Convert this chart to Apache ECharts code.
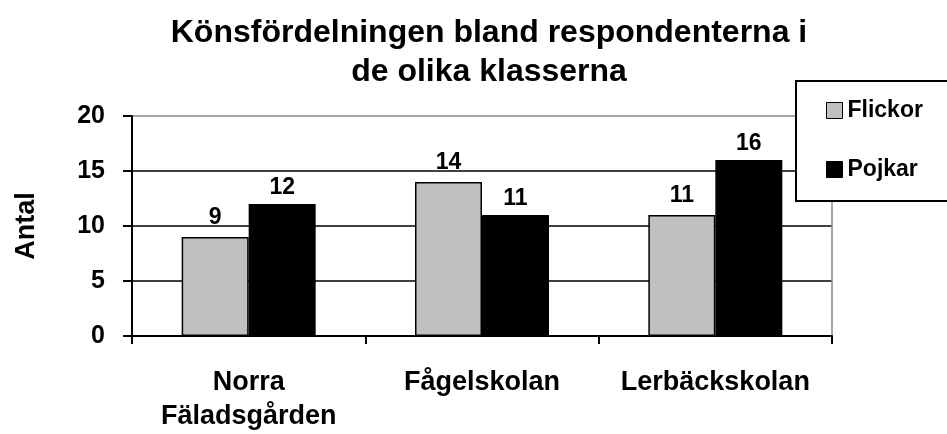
<!DOCTYPE html>
<html>
<head>
<meta charset="utf-8">
<script src="https://cdn.jsdelivr.net/npm/echarts@6/dist/echarts.min.js"></script>
<style>
  html, body { margin: 0; padding: 0; background: #fff; }
  #main { width: 947px; height: 434px; }
</style>
</head>
<body>
<div id="main"></div>
<script>
  // skolor / klasser
  var categories = ['Norra\nFäladsgården', 'Fågelskolan', 'Lerbäckskolan']
  var flickor = [9, 14, 11]
  var pojkar = [12, 11, 16]
  var yTicks = [0, 5, 10, 15, 20]

  var font = 'Liberation Sans, Arial, sans-serif'
  var chart = echarts.init(document.getElementById('main'))

  var option = {
    backgroundColor: '#fff',
    animation: false,
    title: {
      text: 'Könsfördelningen bland respondenterna i\nde olika klasserna',
      left: 489,
      top: 14,
      padding: 0,
      textAlign: 'center',
      textStyle: {
        fontFamily: font,
        fontWeight: 'bold',
        fontSize: 32,
        lineHeight: 39,
        color: '#000'
      }
    },
    legend: {
      orient: 'vertical',
      left: 796,
      top: 81,
      padding: [18, 80, 20, 30],
      itemGap: 36,
      itemWidth: 16,
      itemHeight: 16,
      icon: 'rect',
      backgroundColor: '#fff',
      borderColor: '#000',
      borderWidth: 2,
      itemStyle: { borderColor: '#000', borderWidth: 1 },
      textStyle: {
        fontFamily: font,
        fontWeight: 'bold',
        fontSize: 23,
        color: '#000'
      },
      data: ['Flickor', 'Pojkar']
    },
    grid: {
      left: 132,
      right: 115,
      top: 116,
      bottom: 98
    },
    xAxis: {
      type: 'category',
      data: categories,
      axisLine: { lineStyle: { color: '#000', width: 2 } },
      axisTick: { show: true, inside: false, length: 8, lineStyle: { color: '#000', width: 2 } },
      axisLabel: {
        interval: 0,
        margin: 30,
        fontFamily: font,
        fontWeight: 'bold',
        fontSize: 27,
        lineHeight: 34,
        color: '#000'
      }
    },
    yAxis: [{
      type: 'value',
      min: yTicks[0],
      max: yTicks[yTicks.length - 1],
      interval: 5,
      name: 'Antal',
      nameLocation: 'middle',
      nameRotate: 90,
      nameGap: 92,
      nameTextStyle: {
        fontFamily: font,
        fontWeight: 'bold',
        fontSize: 27,
        color: '#000'
      },
      axisLine: { show: true, lineStyle: { color: '#000', width: 2 } },
      axisTick: { show: true, inside: false, length: 9, lineStyle: { color: '#000', width: 2 } },
      axisLabel: {
        margin: 27,
        fontFamily: font,
        fontWeight: 'bold',
        fontSize: 25,
        color: '#000'
      },
      splitLine: {
        show: true,
        lineStyle: { color: ['#000', '#000', '#000', '#000', '#888'], width: 1.5 }
      }
    }, {
      // högra ramen
      type: 'value',
      position: 'right',
      min: yTicks[0],
      max: yTicks[yTicks.length - 1],
      interval: 5,
      axisLine: { show: true, lineStyle: { color: '#888', width: 1.5 } },
      axisTick: { show: false },
      axisLabel: { show: false },
      splitLine: { show: false }
    }],
    series: [
      {
        name: 'Flickor',
        type: 'bar',
        data: flickor,
        barWidth: 67,
        barGap: '0%',
        itemStyle: { color: '#c0c0c0', borderColor: '#000', borderWidth: 1.5 },
        label: {
          show: true,
          position: 'top',
          distance: 8,
          fontFamily: font,
          fontWeight: 'bold',
          fontSize: 23,
          color: '#000'
        }
      },
      {
        name: 'Pojkar',
        type: 'bar',
        data: pojkar,
        barWidth: 67,
        barGap: '0%',
        itemStyle: { color: '#000', borderColor: '#000', borderWidth: 1.5 },
        label: {
          show: true,
          position: 'top',
          distance: 5,
          fontFamily: font,
          fontWeight: 'bold',
          fontSize: 23,
          color: '#000'
        }
      }
    ]
  }

  chart.setOption(option)
  window.addEventListener('resize', () => {
    chart.resize()
  })
</script>
</body>
</html>
